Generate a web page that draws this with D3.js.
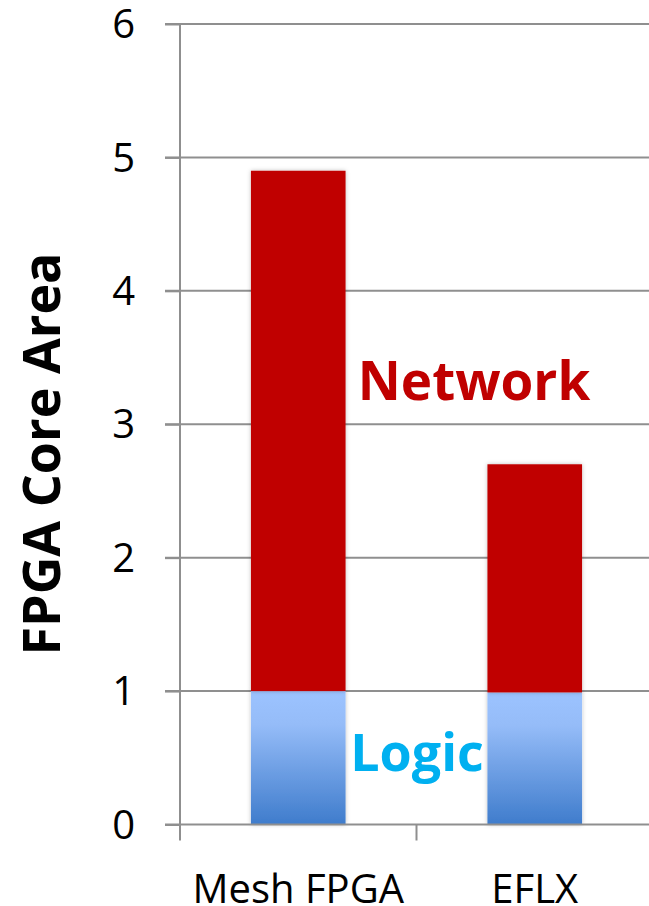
<!doctype html>
<html>
<head>
<script src="https://d3js.org/d3.v7.min.js"></script>
<style>
  body { margin: 0; background: #fff; }
  svg text { font-family: "Open Sans", sans-serif; }
</style>
</head>
<body>
<script>
// chart data
var categories = ["Mesh FPGA", "EFLX"];
var logicValues = [1.0, 0.99];
var networkValues = [3.9, 1.71];
var yTicks = [0, 1, 2, 3, 4, 5, 6];

var width = 649, height = 906;
var svg = d3.select("body").append("svg")
  .attr("width", width).attr("height", height);

var defs = svg.append("defs");
var grad = defs.append("linearGradient").attr("id", "logicGrad")
  .attr("x1", 0).attr("y1", 0).attr("x2", 0).attr("y2", 1);
grad.append("stop").attr("offset", "0%").attr("stop-color", "#9cc3ff");
grad.append("stop").attr("offset", "25%").attr("stop-color", "#95bcf8");
grad.append("stop").attr("offset", "100%").attr("stop-color", "#3f7ccc");

var shadow = defs.append("filter").attr("id", "shadow")
  .attr("x", "-10%").attr("y", "-10%").attr("width", "120%").attr("height", "120%");
shadow.append("feDropShadow").attr("dx", 0).attr("dy", 0)
  .attr("stdDeviation", 2).attr("flood-opacity", 0.25);

// scales
var x = d3.scaleBand().domain(categories).range([180, 653]).padding(0);
var y = d3.scaleLinear().domain([0, 6]).range([824.5, 24]);
var barW = x.bandwidth() * 0.4;

// gridlines
svg.append("g").selectAll("line").data(yTicks.slice(1)).enter().append("line")
  .attr("x1", 165).attr("x2", width)
  .attr("y1", function(d) { return y(d); })
  .attr("y2", function(d) { return y(d); })
  .attr("stroke", "#8f8f8f").attr("stroke-width", 2);

// y axis
var yAxis = d3.axisLeft(y).tickValues(yTicks).tickSize(15).tickPadding(30)
  .tickFormat(d3.format("d"));
var gy = svg.append("g").attr("transform", "translate(180,0)").call(yAxis);
gy.select(".domain").remove();
gy.selectAll(".tick line").attr("stroke", "#8f8f8f").attr("stroke-width", 2);
gy.selectAll(".tick text").attr("font-size", 40).attr("fill", "#000")
  .attr("font-family", "Open Sans").attr("dy", "0.34em");
svg.append("line").attr("x1", 180).attr("x2", 180)
  .attr("y1", y(6)).attr("y2", y(0))
  .attr("stroke", "#8f8f8f").attr("stroke-width", 2);

// bars
var bars = svg.append("g");
bars.selectAll("rect.logic").data(categories).enter().append("rect")
  .attr("class", "logic")
  .attr("x", function(d) { return x(d) + (x.bandwidth() - barW) / 2; })
  .attr("width", barW)
  .attr("y", function(d, i) { return y(logicValues[i]); })
  .attr("height", function(d, i) { return y(0) - y(logicValues[i]); })
  .attr("fill", "url(#logicGrad)")
  .attr("filter", "url(#shadow)");
bars.selectAll("rect.network").data(categories).enter().append("rect")
  .attr("class", "network")
  .attr("x", function(d) { return x(d) + (x.bandwidth() - barW) / 2; })
  .attr("width", barW)
  .attr("y", function(d, i) { return y(logicValues[i] + networkValues[i]); })
  .attr("height", function(d, i) { return y(logicValues[i]) - y(logicValues[i] + networkValues[i]); })
  .attr("fill", "#c00000")
  .attr("filter", "url(#shadow)");

// x axis
svg.append("line").attr("x1", 165).attr("x2", width)
  .attr("y1", y(0)).attr("y2", y(0))
  .attr("stroke", "#8f8f8f").attr("stroke-width", 2);
var xAxis = d3.axisBottom(x).tickSize(0).tickPadding(0);
var gx = svg.append("g").attr("transform", "translate(0," + y(0) + ")").call(xAxis);
gx.select(".domain").remove();
gx.selectAll(".tick text").attr("font-size", 40).attr("fill", "#000")
  .attr("font-family", "Open Sans").attr("y", 78).attr("dy", 0);
var bounds = [180, 180 + x.bandwidth(), 180 + 2 * x.bandwidth()];
svg.append("g").selectAll("line").data(bounds).enter().append("line")
  .attr("x1", function(d) { return d; }).attr("x2", function(d) { return d; })
  .attr("y1", y(0)).attr("y2", y(0) + 16)
  .attr("stroke", "#8f8f8f").attr("stroke-width", 2);

// y title
svg.append("text")
  .attr("transform", "translate(60," + 454 + ") rotate(-90)")
  .attr("text-anchor", "middle")
  .attr("font-size", 52).attr("font-weight", "bold").attr("fill", "#000")
  .text("FPGA Core Area");

// annotations
svg.append("text").attr("x", 474).attr("y", 400).attr("text-anchor", "middle")
  .attr("font-size", 53).attr("font-weight", "bold").attr("fill", "#c00000")
  .text("Network");
svg.append("text").attr("x", 417).attr("y", 771).attr("text-anchor", "middle")
  .attr("font-size", 52).attr("font-weight", "bold").attr("fill", "#00b0f0")
  .text("Logic");
</script>
</body>
</html>
